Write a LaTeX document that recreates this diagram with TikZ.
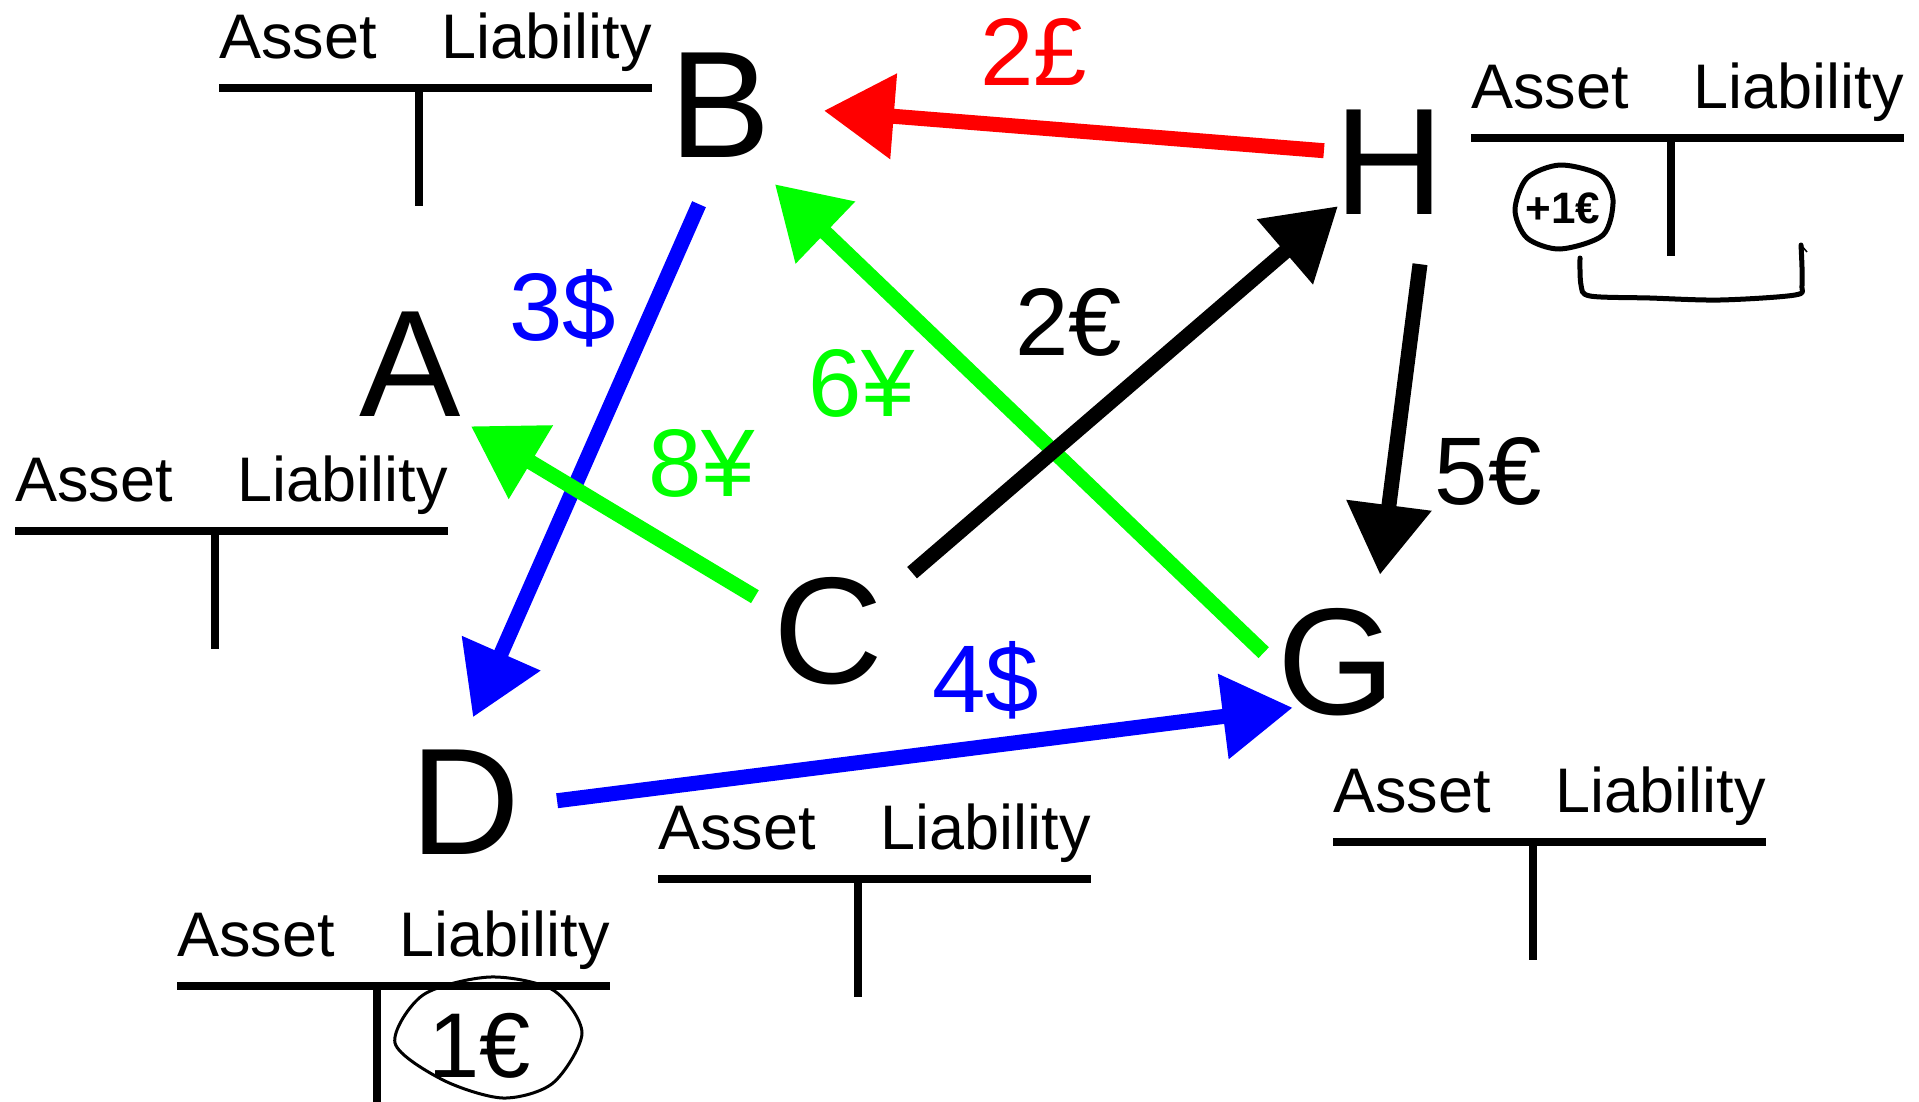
\documentclass[tikz,border=0pt]{standalone}
\usepackage{fontspec}
\setmainfont{Liberation Sans}
\usetikzlibrary{arrows.meta}
\tikzset{
  letter/.style={font=\fontsize{152}{152}\selectfont,inner sep=0pt,anchor=base},
  acctext/.style={font=\fontsize{63}{63}\selectfont,inner sep=0pt},
  amount/.style={font=\fontsize{96}{96}\selectfont,inner sep=0pt,anchor=base},
  tline/.style={line width=8pt},
  pay/.style={-{Triangle[length=70pt,width=82pt]},line width=15pt},
  scribble/.style={line width=5pt,line cap=round,line join=round}
}

\begin{document}
\begin{tikzpicture}[x=1pt,y=-1pt]
\useasboundingbox (0,0) rectangle (1919,1101);

\node[letter] (B) at (720,157) {B};
\node[letter] (A) at (410,416) {A};
\node[letter] (H) at (1389,214) {H};
\node[letter] (C) at (828,683) {C};
\node[letter] (G) at (1337,714) {G};
\node[letter] (D) at (465,854) {D};

% T-accounts: name/left/line height
\foreach \n/\x/\y in {B/219/88, H/1471/138, A/15/531, C/658/879, G/1333/842, D/177/986}{
  \node[acctext,anchor=base west] (ast\n) at ({\x},{\y-30}) {Asset};
  \node[acctext,anchor=base east] (lia\n) at ({\x+433},{\y-30}) {Liability};
  \draw[tline] ({\x},{\y}) -- ({\x+433},{\y});
  \draw[tline] ({\x+200},{\y}) -- ({\x+200},{\y+118});
}

\draw[pay,red] ([shift={(-10,-11)}]H.west) -- ([shift={(53,6)}]B.east);
\draw[pay,blue] ([shift={(-21,47)}]B.south) -- ([shift={(8,-32)}]D.north);
\draw[pay,green] ([shift={(-18,-34)}]C.west) -- ([shift={(10,10)}]A.south east);
\draw[pay,green] ([shift={(-14,-9)}]G.west) -- ([shift={(4,27)}]B.south east);
\draw[pay] ([shift={(29,-4)}]C.north east) -- ([shift={(4,-8)}]H.south west);
\draw[pay] ([shift={(31,50)}]H.south) -- ([shift={(43,-33)}]G.north);
\draw[pay,blue] ([shift={(37,-1)}]D.east) -- ([shift={(15,-8)}]G.south west);

\node[amount,red] (pHB) at (1034,85) {2£};
\node[amount,blue] (pBD) at (563,340) {3\$};
\node[amount,green] (pCA) at (702,496) {8¥};
\node[amount,green] (pGB) at (862,416) {6¥};
\node[amount] (pCH) at (1069,355) {2€};
\node[amount] (pHG) at (1488,504) {5€};
\node[amount,blue] (pDG) at (986,712) {4\$};

% handwritten notes
\node[font=\bfseries\fontsize{44}{44}\selectfont,inner sep=0pt] (noteH) at (1563,208) {+1€};
\draw[scribble] plot[smooth cycle] coordinates {(1515,210) (1527,178) (1560,165) (1600,175) (1613,200) (1603,235) (1560,249) (1527,238)};
\draw[scribble] plot[smooth] coordinates {(1580,258) (1581,285) (1590,296) (1650,298) (1720,300) (1795,295) (1802,285) (1801,245)};
\draw[line width=1.5pt] (1801,245) -- (1807,252);
\node[font=\fontsize{92}{92}\selectfont,inner sep=0pt] (noteD) at (480,1046) {1€};
\draw[line width=3pt] plot[smooth cycle] coordinates {(395,1043) (423,995) (490,977) (553,990) (582,1033) (553,1083) (503,1098) (443,1080)};
\end{tikzpicture}
\end{document}
